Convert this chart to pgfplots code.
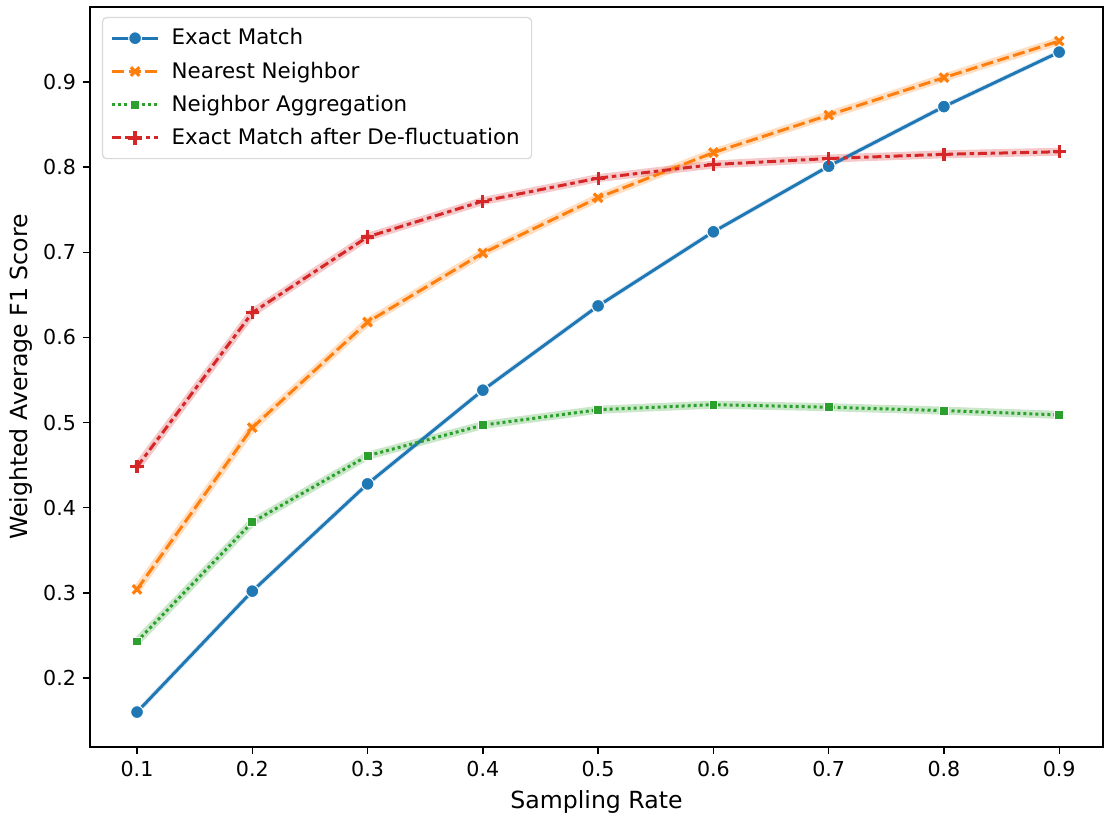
\documentclass[border=0pt]{standalone}
\usepackage{fontspec}
\setmainfont{DejaVu Sans}
\usepackage{pgfplots}
\usepackage{pgfplotstable}
\pgfplotsset{compat=1.18}
\definecolor{cblue}{HTML}{1F77B4}
\definecolor{corange}{HTML}{FF7F0E}
\definecolor{cgreen}{HTML}{2CA02C}
\definecolor{cred}{HTML}{D62728}

\pgfplotstableread{
x     em     nn     na     emd
0.1   0.160  0.304  0.243  0.448
0.2   0.302  0.494  0.383  0.629
0.3   0.428  0.618  0.461  0.718
0.4   0.538  0.699  0.497  0.760
0.5   0.637  0.764  0.515  0.787
0.6   0.724  0.817  0.521  0.803
0.7   0.801  0.861  0.518  0.810
0.8   0.871  0.905  0.514  0.815
0.9   0.935  0.948  0.509  0.818
}\data

\begin{document}
\begin{tikzpicture}
\begin{axis}[
  name=ax,
  scale only axis, width=506.5pt, height=370pt,
  xmin=0.0592, xmax=0.938, ymin=0.119, ymax=0.988,
  xtick={0.1,0.2,0.3,0.4,0.5,0.6,0.7,0.8,0.9},
  ytick={0.2,0.3,0.4,0.5,0.6,0.7,0.8,0.9},
  tick align=outside, major tick length=3.5pt,
  tick style={line width=0.7pt, black},
  axis line style={line width=1pt},
  xtick pos=bottom, ytick pos=left,
  /pgf/number format/assume math mode=true,
  ticklabel style={font=\fontsize{10.3}{12}\selectfont, /pgf/number format/fixed, /pgf/number format/precision=1, /pgf/number format/fixed zerofill},
  xlabel={Sampling Rate}, ylabel={Weighted Average F1 Score},
  label style={font=\fontsize{11.8}{14}\selectfont},
  ylabel style={yshift=-1.5pt},
  legend style={at={(0,1)}, xshift=6pt, yshift=-5pt, anchor=north west,
    draw=black!15, rounded corners=2pt, line width=0.6pt,
    font=\fontsize{10.7}{12.5}\selectfont, row sep=3pt, inner xsep=4pt, inner ysep=3.5pt,
    /tikz/every odd column/.append style={column sep=4pt}},
  legend cell align=left,
  legend image code/.code={
    \draw[mark repeat=2,mark phase=2,#1] plot coordinates {(0pt,0pt)(11.5pt,0pt)(23pt,0pt)};
  },
]
% translucent bands
\addplot[forget plot, draw=cblue, opacity=0.15, line width=2.5pt] table[x=x,y=em]{\data};
\addplot[forget plot, draw=corange, opacity=0.25, line width=4pt] table[x=x,y=nn]{\data};
\addplot[forget plot, draw=cgreen, opacity=0.25, line width=4pt] table[x=x,y=na]{\data};
\addplot[forget plot, draw=cred, opacity=0.25, line width=4pt] table[x=x,y=emd]{\data};

\addplot[cblue, line width=1.5pt, mark=*, mark size=3.2pt, mark options={solid, fill=cblue, draw=white, line width=0.5pt}] table[x=x,y=em]{\data};
\addlegendentry{Exact Match}
\addplot[corange, line width=1.5pt, dash pattern=on 6pt off 2.25pt, mark=x, mark size=3pt, mark options={solid, line width=1.6pt}] table[x=x,y=nn]{\data};
\addlegendentry{Nearest Neighbor}
\addplot[cgreen, line width=1.5pt, dash pattern=on 1.5pt off 1.5pt, mark=square*, mark size=2.2pt, mark options={solid, fill=cgreen, draw=white, line width=0.4pt}] table[x=x,y=na]{\data};
\addlegendentry{Neighbor Aggregation}
\addplot[cred, line width=1.5pt, dash pattern=on 4.5pt off 1.9pt on 2.25pt off 1.9pt, mark=+, mark size=3.3pt, mark options={solid, line width=1.6pt}] table[x=x,y=emd]{\data};
\addlegendentry{Exact Match after De-fluctuation}
\end{axis}
\path ([shift={(-45pt,-34.5pt)}]ax.south west) rectangle ([shift={(1pt,3.5pt)}]ax.north east);
\end{tikzpicture}
\end{document}
